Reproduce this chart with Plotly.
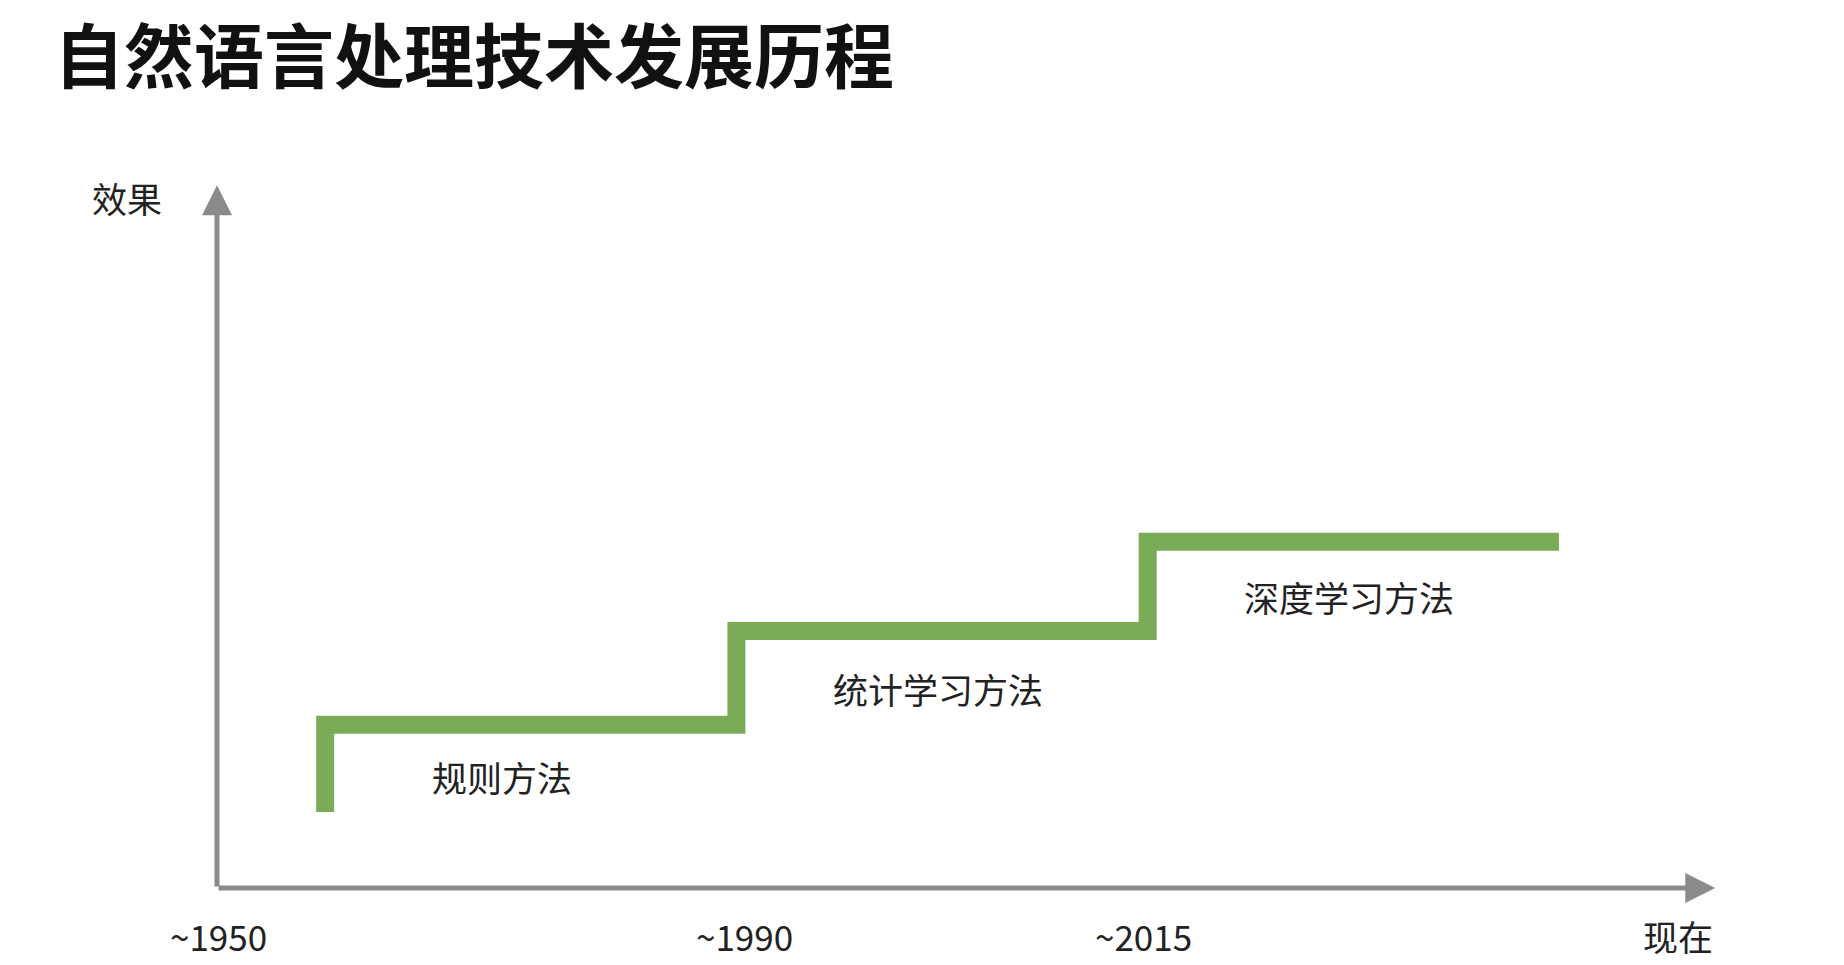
import plotly.graph_objects as go

# step chart data: stage boundaries and effect levels
stage_x = [0, 0, 1, 1, 2, 2, 3]
effect_y = [0.07, 1.0, 1.0, 2.0, 2.0, 2.95, 2.95]

method_names = ["规则方法", "统计学习方法", "深度学习方法"]
method_x = [0.43, 1.49, 2.49]
method_y = [0.45, 1.39, 2.37]

tick_labels = ["~1950", "~1990", "~2015", "现在"]
tick_x = [-0.26, 1.02, 1.99, 3.29]

X0, X1 = -0.263, 3.36
Y0, Y1 = -0.74, 6.7
FONT = "Noto Sans CJK SC"
GREEN = "#7aab57"
GRAY = "#8a8a8a"

fig = go.Figure()
fig.add_trace(go.Scatter(
    x=stage_x, y=effect_y, mode="lines",
    line=dict(color=GREEN, width=18, shape="linear"),
    hoverinfo="skip", showlegend=False
))

for name, x, y in zip(method_names, method_x, method_y):
    fig.add_annotation(x=x, y=y, text=name, showarrow=False,
                       font=dict(family=FONT, size=35, color="#222"))

for lab, x in zip(tick_labels, tick_x):
    fig.add_annotation(x=x, y=Y0, text=lab, showarrow=False, yshift=-47,
                       font=dict(family=FONT, size=35, color="#222"))

# axes with arrows
fig.add_annotation(x=X1 + 0.02, y=Y0, ax=X0, ay=Y0, axref="x", ayref="y",
                   text="", showarrow=True, arrowhead=2, arrowsize=1.2,
                   arrowwidth=5, arrowcolor=GRAY)
fig.add_annotation(x=X0, y=Y1 + 0.05, ax=X0, ay=Y0, axref="x", ayref="y",
                   text="", showarrow=True, arrowhead=2, arrowsize=1.2,
                   arrowwidth=5, arrowcolor=GRAY)

fig.add_annotation(x=-90 / 1490, y=(880 - 190) / 698, xref="paper", yref="paper",
                   text="效果", showarrow=False, xanchor="center", yanchor="middle",
                   font=dict(family=FONT, size=35, color="#222"))

fig.update_layout(
    width=1844, height=965,
    margin=dict(l=209, r=145, t=182, b=85),
    plot_bgcolor="white", paper_bgcolor="white",
    title=dict(text="<b>自然语言处理技术发展历程</b>", x=0.025, xanchor="left",
               y=0.948, yanchor="middle",
               font=dict(family=FONT, size=70, color="#111")),
    xaxis=dict(range=[X0, X1], visible=False),
    yaxis=dict(range=[Y0, Y1], visible=False),
)

fig.write_html("out.html")
